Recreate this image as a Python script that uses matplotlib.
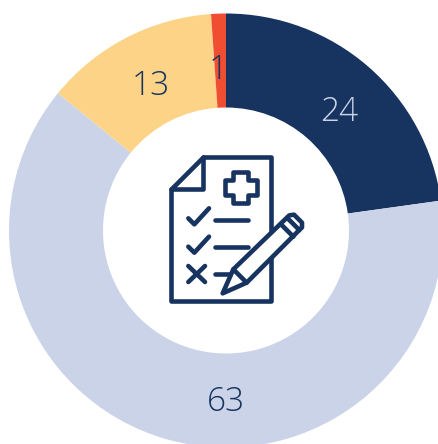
import matplotlib
matplotlib.use("Agg")
import numpy as np
import matplotlib.pyplot as plt
from matplotlib.patches import Polygon

W, H = 439, 444
NAVY = "#17335F"

categories = ["A", "B", "C", "D"]
slice_shares = [22.8, 63.1, 13.0, 1.1]
value_labels = ["24", "63", "13", "1"]
slice_colors = [NAVY, "#CBD3E8", "#FDD388", "#F04E32"]
label_colors = ["#CBD3E8", NAVY, NAVY, NAVY]
label_px = [(339, 108), (226, 398), (151, 82), (218, 66)]

plt.rcParams["font.family"] = ["Open Sans", "DejaVu Sans"]

fig = plt.figure(figsize=(W / 100, H / 100), dpi=100, facecolor="white")
ax = fig.add_axes([0, 0, 1, 1])

cx, cy, R, r_in = 226, H - 230.5, 217, 123
wedges, _ = ax.pie(
    slice_shares, colors=slice_colors, startangle=90, counterclock=False,
    center=(cx, cy), radius=R, frame=True,
    wedgeprops=dict(width=R - r_in, linewidth=0),
)
for (x, y), lab, col in zip(label_px, value_labels, label_colors):
    ax.text(x, H - y, lab, color=col, ha="center", va="center_baseline",
            fontsize=24, fontweight="light")

ax.set_xlim(0, W)
ax.set_ylim(0, H)
ax.set_aspect("auto")
ax.axis("off")

# Icon: coordinates in reference pixels, defined through a small helper
def P(pts):
    return [(150 + x / 3, H - (140 + y / 3)) for x, y in pts]

LW = 3.3
style = dict(color=NAVY, lw=LW, solid_capstyle="round", solid_joinstyle="round", zorder=5)

def line(pts):
    q = np.array(P(pts))
    ax.plot(q[:, 0], q[:, 1], **style)

def poly(pts, fc="white", z=5):
    ax.add_patch(Polygon(P(pts), closed=True, fc=fc, ec=NAVY, lw=LW, joinstyle="round", zorder=z))

poly([(160, 52), (363, 52), (363, 484), (62, 484), (62, 148)])
line([(160, 52), (160, 148), (62, 148)])
poly([(250, 96), (294, 96), (294, 120), (320, 120), (320, 166), (294, 166), (294, 190),
      (250, 190), (250, 166), (225, 166), (225, 120), (250, 120)])
line([(115, 235), (133, 253), (177, 205)])
line([(195, 240), (293, 240)])
line([(115, 320), (133, 338), (177, 290)])
line([(195, 321), (293, 321)])
line([(115, 378), (165, 426)])
line([(165, 378), (115, 426)])
line([(195, 402), (250, 402)])

# pencil: white fill then outline
pencil = [(218, 460), (250, 388), (418, 226), (432, 224), (456, 248), (456, 262), (290, 428)]
poly(pencil, z=7)
style["zorder"] = 8
line([(250, 388), (290, 428)])
line([(392, 252), (430, 290)])
line([(412, 234), (448, 270)])

fig.savefig("out.png", dpi=100, facecolor="white")
